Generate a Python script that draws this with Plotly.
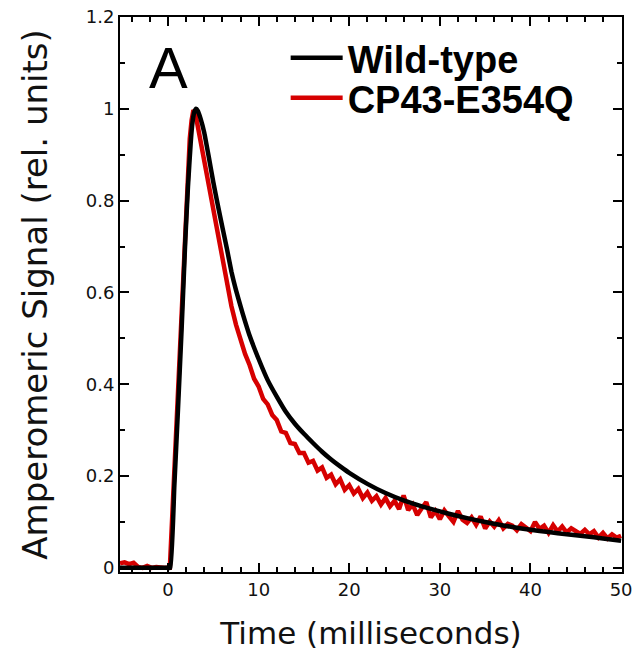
import plotly.graph_objects as go

# Wild-type (smooth)
wt_t = [-5.3, 0.0, 0.25, 0.7, 1.1, 1.5, 1.9, 2.2, 2.5, 2.7, 2.9, 3.1, 3.3, 3.6, 4.0, 4.5, 5.0, 5.5, 6.0, 6.5, 7.0, 7.5,
        8.0, 8.5, 9.0, 10.0, 11.0, 12.0, 13.0, 14.0, 15.0, 16.0, 17.0, 18.0, 19.0, 20.0, 22.0, 24.0, 26.0,
        28.0, 30.0, 32.0, 34.0, 36.0, 38.0, 40.0, 42.0, 44.0, 46.0, 48.0, 50.0]
wt_y = [0.0, 0.0, 0.0, 0.18, 0.345, 0.52, 0.71, 0.83, 0.925, 0.97, 0.993, 1.0, 0.995, 0.978, 0.948, 0.895, 0.84, 0.79, 0.742, 0.695, 0.645, 0.605,
        0.57, 0.537, 0.506, 0.455, 0.409, 0.373, 0.34, 0.314, 0.292, 0.272, 0.253, 0.236, 0.221, 0.207, 0.183, 0.163, 0.147,
        0.134, 0.123, 0.113, 0.104, 0.096, 0.089, 0.083, 0.078, 0.073, 0.069, 0.064, 0.059]

# CP43-E354Q (noisy)
mut_t = [-5.3, -4.8, -4.3, -3.8, -3.3, -2.8, -2.3, -1.8, -1.3, -0.8, -0.3, 0.2,
         0.65, 1.05, 1.45, 1.85, 2.15, 2.4, 2.6, 2.8, 3.0, 3.3, 3.6, 4.0, 4.5, 5.0, 5.5, 6.0, 6.5, 7.0, 7.5,
         8.0, 8.5, 9.0, 9.5, 10.0, 10.5, 11.0, 11.5, 12.0, 12.5, 13.0, 13.5, 14.0, 14.5, 15.0, 15.5,
         16.0, 16.5, 17.0, 17.5, 18.0, 18.5, 19.0, 19.5, 20.0, 20.5, 21.0, 21.5, 22.0, 22.5, 23.0, 23.5,
         24.0, 24.5, 25.0, 25.5, 26.0, 26.5, 27.0, 27.5, 28.0, 28.5, 29.0, 29.5, 30.0, 30.5, 31.0, 31.5,
         32.0, 32.5, 33.0, 33.5, 34.0, 34.5, 35.0, 35.5, 36.0, 36.5, 37.0, 37.5, 38.0, 38.5, 39.0, 39.5,
         40.0, 40.5, 41.0, 41.5, 42.0, 42.5, 43.0, 43.5, 44.0, 44.5, 45.0, 45.5, 46.0, 46.5, 47.0, 47.5,
         48.0, 48.5, 49.0, 49.5, 50.0]
mut_y = [0.01, 0.012, 0.008, 0.011, 0.002, 0.0, 0.004, 0.0, 0.002, 0.0, 0.0, 0.0,
         0.19, 0.36, 0.54, 0.74, 0.86, 0.935, 0.975, 0.997, 0.992, 0.96, 0.925, 0.88, 0.83, 0.778, 0.725, 0.665, 0.612, 0.57, 0.53,
         0.497, 0.466, 0.442, 0.412, 0.395, 0.368, 0.356, 0.333, 0.322, 0.297, 0.294, 0.272, 0.27, 0.25, 0.25, 0.229,
         0.233, 0.212, 0.219, 0.196, 0.203, 0.182, 0.193, 0.17, 0.18, 0.162, 0.172, 0.152, 0.164, 0.146, 0.156, 0.138,
         0.152, 0.134, 0.146, 0.128, 0.158, 0.126, 0.138, 0.115, 0.13, 0.143, 0.11, 0.124, 0.106, 0.125, 0.112, 0.1,
         0.124, 0.105, 0.098, 0.11, 0.094, 0.112, 0.086, 0.101, 0.09, 0.104, 0.086, 0.096, 0.092, 0.082, 0.095, 0.087,
         0.08, 0.1, 0.085, 0.092, 0.076, 0.093, 0.079, 0.09, 0.077, 0.086, 0.079, 0.074, 0.083, 0.073, 0.08, 0.066,
         0.076, 0.064, 0.073, 0.066, 0.07]

x_ticks = [0, 10, 20, 30, 40, 50]
y_ticks = [0, 0.2, 0.4, 0.6, 0.8, 1.0, 1.2]
y_tick_labels = ["0", "0.2", "0.4", "0.6", "0.8", "1", "1.2"]

fig = go.Figure()
fig.add_trace(go.Scatter(x=mut_t, y=mut_y, mode="lines", name="CP43-E354Q", showlegend=True,
                         line=dict(color="#d60000", width=4.5), legend="legend2"))
fig.add_trace(go.Scatter(x=wt_t, y=wt_y, mode="lines", name="Wild-type", showlegend=True,
                         line=dict(color="black", width=4.5, shape="spline", smoothing=0.4), legend="legend"))

tickfont = dict(family="DejaVu Sans", size=18, color="#111")
axis_common = dict(showline=True, linecolor="black", linewidth=2, mirror="ticks",
                   ticks="inside", ticklen=9, tickwidth=2, tickcolor="black", automargin=False,
                   showgrid=False, zeroline=False, tickfont=tickfont)

fig.update_xaxes(range=[-5.3, 50.1], tickvals=x_ticks,
                 minor=dict(dtick=2, ticks="inside", ticklen=5, tickwidth=2, tickcolor="black"),
                 title=dict(text="Time (milliseconds)", font=dict(family="DejaVu Sans", size=31, color="#111"), standoff=24),
                 **axis_common)
fig.update_yaxes(range=[-0.009, 1.2], tickvals=y_ticks, ticktext=y_tick_labels,
                 minor=dict(dtick=0.1, ticks="inside", ticklen=5, tickwidth=2, tickcolor="black"),
                 title=dict(text="Amperomeric Signal (rel. units)", font=dict(family="DejaVu Sans", size=34, color="#111"), standoff=28),
                 **axis_common)

fig.add_annotation(x=0.1, y=1.09, xref="x", yref="y", text="A", showarrow=False,
                   font=dict(family="Liberation Sans", size=58, color="black"))

legend_font = dict(family="Liberation Sans", size=38, color="black", weight="bold")
fig.update_layout(
    width=639, height=661,
    margin=dict(l=120, r=17, t=17, b=89),
    plot_bgcolor="white", paper_bgcolor="white",
    showlegend=True,
    legend=dict(x=0.33, y=0.926, xanchor="left", yanchor="middle", bgcolor="rgba(0,0,0,0)",
                font=legend_font, itemwidth=52, visible=True),
    legend2=dict(x=0.33, y=0.854, xanchor="left", yanchor="middle", bgcolor="rgba(0,0,0,0)",
                 font=legend_font, itemwidth=52, visible=True),
)

fig.write_html("out.html")
